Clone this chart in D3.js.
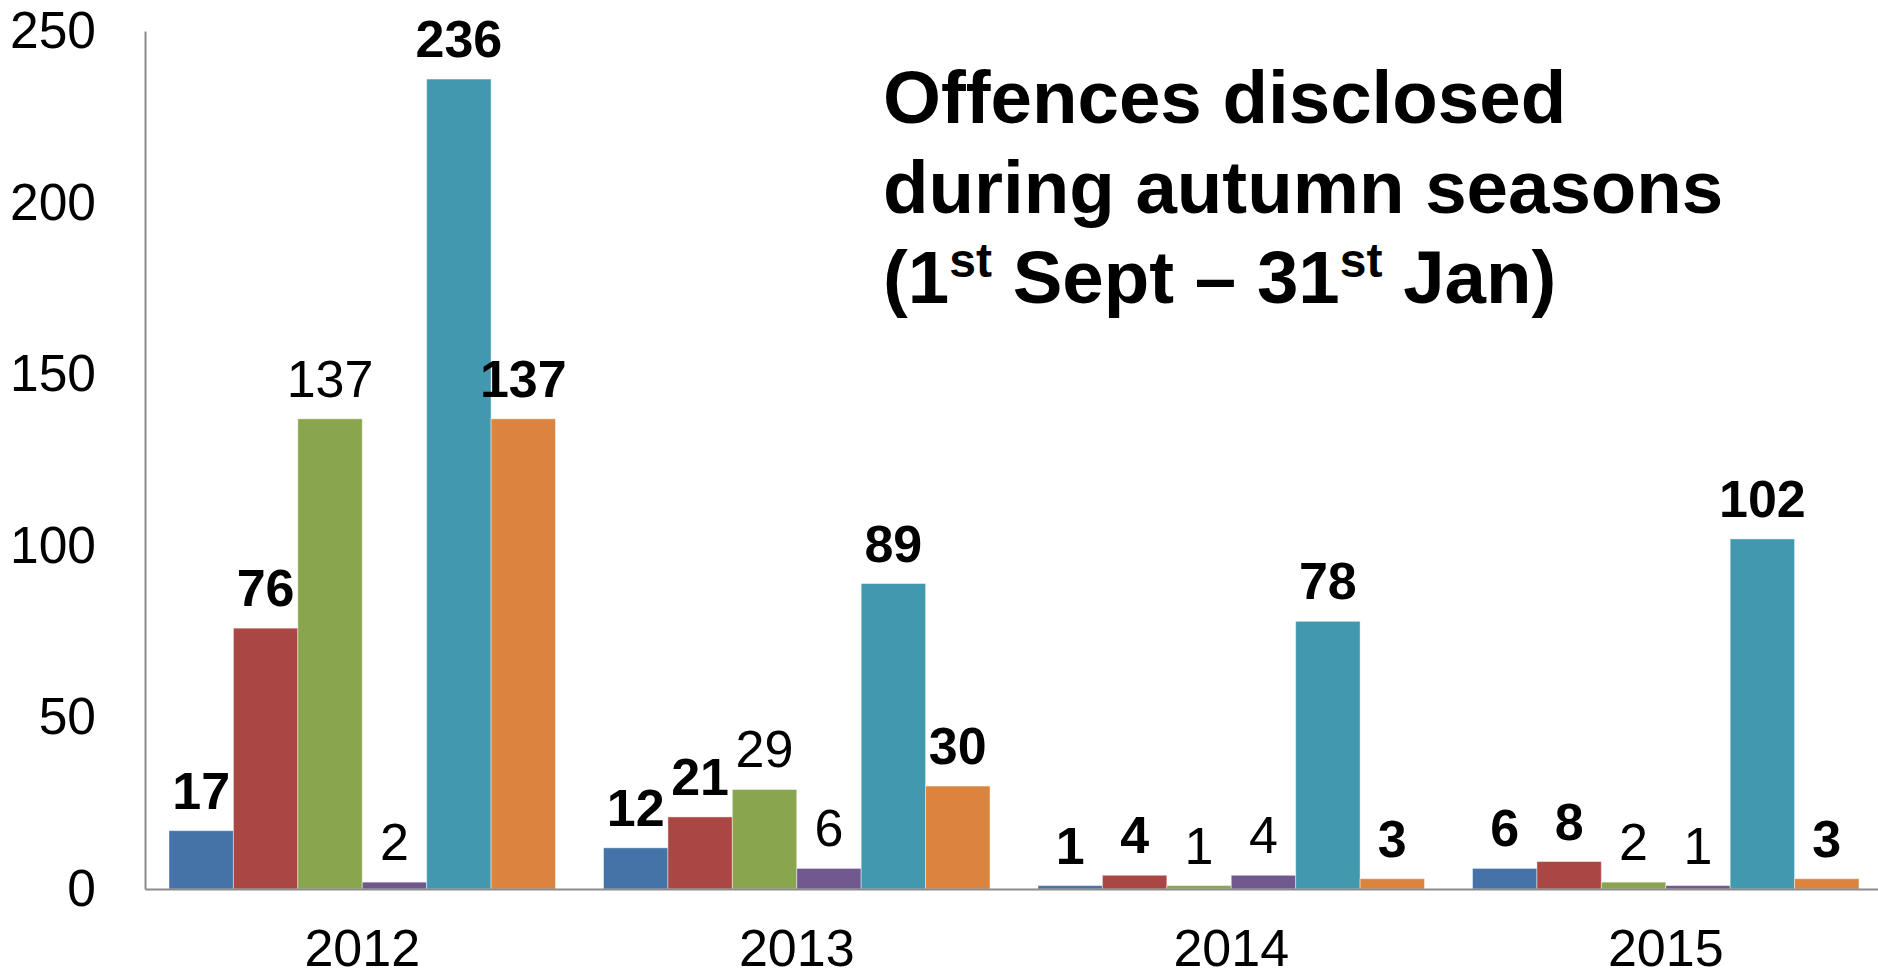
<!DOCTYPE html>
<html>
<head>
<meta charset="utf-8">
<script src="https://cdn.jsdelivr.net/npm/d3@7"></script>
<style>
  html, body { margin: 0; padding: 0; background: #fff; }
  svg { display: block; font-family: "Liberation Sans", Arial, sans-serif; }
</style>
</head>
<body>
<svg id="chart" width="1878" height="977"></svg>
<script>
// ---- data ----
const years = ["2012", "2013", "2014", "2015"];
const seriesNames = ["s1", "s2", "s3", "s4", "s5", "s6"];
const seriesColors = ["#4572A7", "#AA4643", "#89A54E", "#71588F", "#4198AF", "#DB843D"];
const seriesLabelBold = [true, true, false, false, true, true];
const s1 = [17, 12, 1, 6];
const s2 = [76, 21, 4, 8];
const s3 = [137, 29, 1, 2];
const s4 = [2, 6, 4, 1];
const s5 = [236, 89, 78, 102];
const s6 = [137, 30, 3, 3];
const seriesValues = [s1, s2, s3, s4, s5, s6];
const yTicks = [0, 50, 100, 150, 200, 250];
const titleLines = ["Offences disclosed", "during autumn seasons"];

// ---- layout ----
const svg = d3.select("#chart");
const plotLeft = 145, plotRight = 1883, plotTop = 31, plotBottom = 889;

const x0 = d3.scaleBand().domain(years).range([plotLeft, plotRight]).padding(0);
const gap = 24;
const x1 = d3.scaleBand().domain(seriesNames).range([gap, x0.bandwidth() - gap]).padding(0);
const y = d3.scaleLinear().domain([0, 250]).range([plotBottom, plotTop]);

// bars
const groups = svg.append("g").selectAll("g")
  .data(years)
  .join("g")
  .attr("transform", d => `translate(${x0(d)},0)`);

groups.each(function(year, yi) {
  const g = d3.select(this);
  const data = seriesNames.map((s, si) => ({ s, si, v: seriesValues[si][yi] }));
  g.selectAll("rect").data(data).join("rect")
    .attr("x", d => x1(d.s))
    .attr("y", d => y(d.v))
    .attr("width", x1.bandwidth())
    .attr("height", d => y(0) - y(d.v))
    .attr("fill", d => seriesColors[d.si])
    .attr("stroke", "rgba(255,255,255,0.45)")
    .attr("stroke-width", 1);
  g.selectAll("text").data(data).join("text")
    .attr("x", d => x1(d.s) + x1.bandwidth() / 2)
    .attr("y", d => y(d.v) - 22)
    .attr("text-anchor", "middle")
    .attr("font-size", 52)
    .attr("font-weight", d => seriesLabelBold[d.si] ? "bold" : "normal")
    .attr("fill", "#000")
    .text(d => d.v);
});

// y axis
const yAxis = d3.axisLeft(y).tickValues(yTicks).tickSize(0).tickPadding(49);
const ya = svg.append("g").attr("transform", `translate(${plotLeft},0)`).call(yAxis);
ya.select(".domain").attr("stroke", "#8c8c8c").attr("stroke-width", 2);
ya.selectAll("text").attr("font-size", 51.5).attr("fill", "#000")
  .attr("font-family", "'Liberation Sans', Arial, sans-serif");

// x axis
const xAxis = d3.axisBottom(x0).tickSize(0).tickPadding(40);
const xa = svg.append("g").attr("transform", `translate(0,${plotBottom})`).call(xAxis);
xa.select(".domain").attr("stroke", "#8c8c8c").attr("stroke-width", 2);
xa.selectAll("text").attr("font-size", 52).attr("fill", "#000")
  .attr("font-family", "'Liberation Sans', Arial, sans-serif");

// title
const title = svg.append("g").attr("font-weight", "bold").attr("font-size", 74.5).attr("fill", "#000");
titleLines.forEach((t, i) => {
  title.append("text").attr("x", 883).attr("y", 123 + i * 90).text(t);
});
const t3 = title.append("text").attr("x", 883).attr("y", 303);
t3.append("tspan").text("(1");
t3.append("tspan").attr("font-size", 48).attr("dy", -26).text("st");
t3.append("tspan").attr("dy", 26).text(" Sept \u2013 31");
t3.append("tspan").attr("font-size", 48).attr("dy", -26).text("st");
t3.append("tspan").attr("dy", 26).text(" Jan)");
</script>
</body>
</html>
